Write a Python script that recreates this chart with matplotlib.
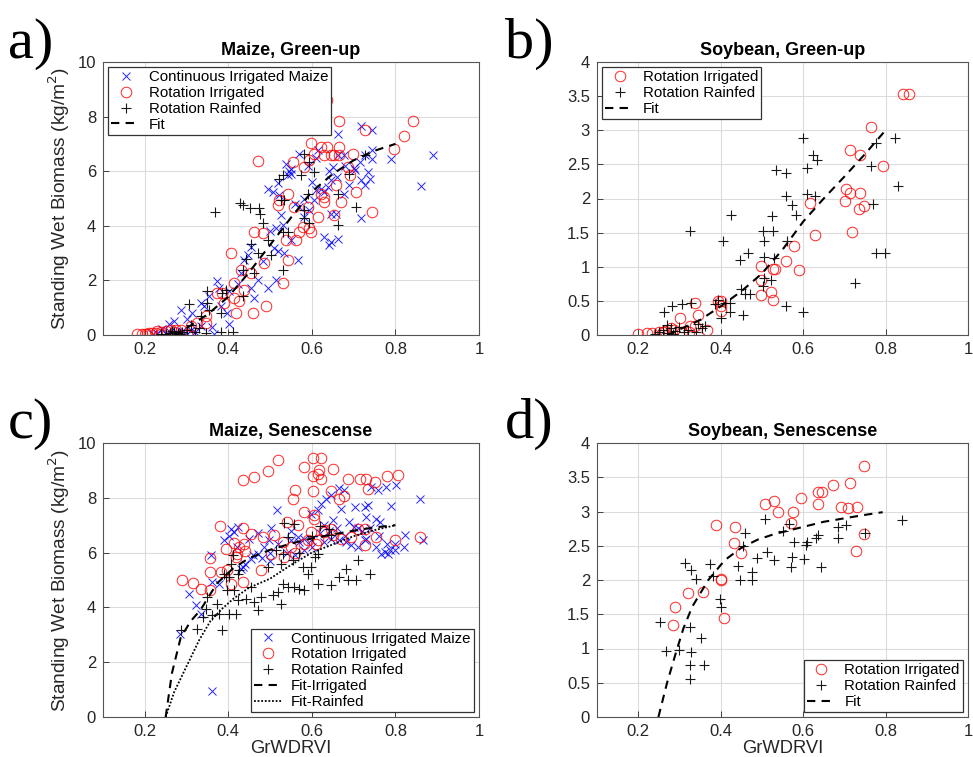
import matplotlib
matplotlib.use("Agg")
import matplotlib.pyplot as plt

plt.rcParams['font.family'] = ['Liberation Sans', 'DejaVu Sans']

# ---------------- Panel a: Maize, Green-up ----------------
a_cim_x = [0.89, 0.862, 0.79, 0.718, 0.744, 0.662, 0.744, 0.745, 0.726, 0.714, 0.734, 0.738, 0.718, 0.726, 0.718,
           0.702, 0.678, 0.678, 0.662, 0.65, 0.646, 0.638, 0.63, 0.646, 0.658, 0.63, 0.642, 0.662, 0.646, 0.614,
           0.622, 0.606, 0.594, 0.582, 0.57, 0.57, 0.55, 0.542, 0.518, 0.506, 0.494, 0.522, 0.526, 0.514, 0.53,
           0.55, 0.566, 0.534, 0.518, 0.514, 0.494, 0.47, 0.482, 0.454, 0.446, 0.438, 0.43, 0.462, 0.454, 0.422,
           0.402, 0.374, 0.378, 0.354, 0.342, 0.334, 0.314, 0.302, 0.286, 0.27, 0.258, 0.242, 0.382, 0.398, 0.402,
           0.366, 0.334, 0.31, 0.29, 0.275, 0.55, 0.538, 0.546, 0.59, 0.61, 0.6, 0.64, 0.66, 0.68, 0.7,
           0.69, 0.61, 0.58, 0.56, 0.5, 0.51, 0.36, 0.32, 0.3, 0.26, 0.25, 0.23, 0.22]
a_cim_y = [6.58, 5.46, 6.46, 7.67, 7.52, 7.37, 6.76, 6.46, 6.58, 6.33, 5.97, 5.73, 5.67, 5.49, 4.27,
           6.03, 6.58, 5.18, 6.58, 6.15, 5.67, 5.42, 5.24, 4.45, 4.45, 3.6, 3.28, 3.52, 3.42, 6.76,
           5.36, 4.94, 4.58, 4.33, 4.7, 6.64, 6.09, 5.85, 5.55, 5.24, 5.36, 5.12, 4.39, 3.91, 4.03,
           3.48, 2.73, 3.0, 3.06, 2.03, 1.72, 2.03, 2.7, 3.24, 2.94, 2.76, 2.27, 1.36, 1.72, 1.85,
           1.6, 1.97, 1.72, 1.42, 1.06, 1.18, 0.81, 0.57, 0.93, 0.51, 0.39, 0.21, 1.06, 0.81, 0.39,
           0.02, 0.33, 0.2, 0.15, 0.12, 5.9, 6.27, 6.0, 6.2, 6.5, 5.6, 6.0, 5.8, 6.2, 6.1,
           5.5, 5.3, 5.0, 4.8, 3.8, 3.2, 0.3, 0.1, 0.05, 0.1, 0.05, 0.08, 0.03]
a_ri_x = [0.635, 0.842, 0.666, 0.727, 0.82, 0.796, 0.598, 0.47, 0.622, 0.635, 0.666, 0.606, 0.646, 0.654, 0.666,
          0.63, 0.698, 0.594, 0.686, 0.692, 0.554, 0.582, 0.658, 0.706, 0.622, 0.63, 0.63, 0.67, 0.614, 0.654,
          0.745, 0.59, 0.594, 0.598, 0.578, 0.57, 0.542, 0.522, 0.518, 0.558, 0.562, 0.538, 0.542, 0.53, 0.49,
          0.458, 0.418, 0.406, 0.462, 0.482, 0.43, 0.438, 0.414, 0.414, 0.426, 0.386, 0.374, 0.39, 0.346, 0.346,
          0.326, 0.31, 0.286, 0.182, 0.194, 0.206, 0.218, 0.226, 0.238, 0.25, 0.262, 0.274, 0.486, 0.454, 0.3,
          0.27, 0.24, 0.2, 0.21, 0.23]
a_ri_y = [8.6, 7.83, 7.83, 7.52, 7.28, 6.82, 7.03, 6.37, 6.88, 6.88, 6.88, 6.64, 6.58, 6.58, 6.58,
          6.58, 6.64, 6.4, 6.15, 5.85, 6.33, 6.15, 5.49, 5.24, 5.18, 5.06, 4.88, 4.88, 4.33, 4.39,
          4.51, 4.7, 3.91, 3.79, 3.97, 3.79, 5.18, 4.94, 4.76, 4.7, 3.48, 3.48, 2.75, 1.91, 1.06,
          0.81, 0.81, 3.0, 3.79, 3.73, 2.39, 1.66, 1.9, 1.36, 1.24, 1.54, 1.54, 1.18, 0.69, 0.45,
          0.45, 0.33, 0.2, 0.02, 0.02, 0.02, 0.06, 0.06, 0.1, 0.15, 0.17, 0.2, 2.63, 2.27, 0.05,
          0.1, 0.02, 0.05, 0.08, 0.15]
a_rr_x = [0.582, 0.606, 0.574, 0.522, 0.53, 0.367, 0.428, 0.434, 0.452, 0.474, 0.476, 0.482, 0.454, 0.442, 0.47,
          0.494, 0.502, 0.53, 0.526, 0.534, 0.53, 0.542, 0.582, 0.582, 0.594, 0.59, 0.662, 0.662, 0.706, 0.69,
          0.726, 0.594, 0.434, 0.434, 0.394, 0.386, 0.35, 0.35, 0.354, 0.382, 0.306, 0.334, 0.31, 0.41, 0.382,
          0.346, 0.462, 0.25, 0.26, 0.27, 0.28, 0.29, 0.3, 0.32, 0.33, 0.24, 0.265, 0.285]
a_rr_y = [6.64, 5.97, 5.85, 5.73, 5.85, 4.51, 4.82, 4.76, 4.64, 4.64, 4.45, 4.09, 3.34, 2.78, 3.0,
          3.48, 2.94, 2.39, 4.94, 4.94, 3.79, 3.79, 4.58, 4.27, 4.09, 5.18, 5.18, 4.03, 4.7, 5.91,
          6.58, 6.33, 2.39, 1.42, 1.66, 1.54, 1.6, 1.18, 0.93, 0.81, 1.12, 0.69, 0.35, 0.12, 0.11,
          0.08, 2.27, 0.05, 0.08, 0.1, 0.06, 0.12, 0.2, 0.1, 0.25, 0.03, 0.15, 0.05]
a_fit_x = [0.27, 0.3, 0.35, 0.4, 0.45, 0.5, 0.55, 0.6, 0.65, 0.7, 0.75, 0.8]
a_fit_y = [0.0, 0.25, 0.75, 1.4, 2.3, 3.3, 4.3, 5.25, 5.9, 6.4, 6.75, 7.0]

# ---------------- Panel b: Soybean, Green-up ----------------
b_ri_x = [0.842, 0.857, 0.764, 0.713, 0.737, 0.793, 0.705, 0.714, 0.737, 0.702, 0.735, 0.748, 0.616, 0.718, 0.629,
          0.578, 0.559, 0.59, 0.498, 0.527, 0.532, 0.498, 0.498, 0.523, 0.528, 0.4, 0.393, 0.4, 0.4, 0.337,
          0.345, 0.301, 0.368, 0.326, 0.2, 0.222, 0.234, 0.25, 0.266, 0.286, 0.305, 0.322, 0.338, 0.28, 0.26]
b_ri_y = [3.53, 3.53, 3.05, 2.71, 2.64, 2.48, 2.14, 2.08, 2.08, 1.96, 1.85, 1.89, 1.93, 1.51, 1.46,
          1.31, 1.09, 0.95, 1.01, 0.96, 0.96, 0.81, 0.58, 0.63, 0.52, 0.5, 0.5, 0.42, 0.35, 0.47,
          0.3, 0.25, 0.08, 0.13, 0.01, 0.03, 0.03, 0.04, 0.06, 0.08, 0.04, 0.04, 0.13, 0.1, 0.05]
b_rr_x = [0.6, 0.625, 0.634, 0.61, 0.534, 0.558, 0.558, 0.61, 0.63, 0.574, 0.582, 0.525, 0.426, 0.502, 0.526,
          0.326, 0.405, 0.505, 0.562, 0.466, 0.447, 0.506, 0.53, 0.506, 0.522, 0.503, 0.45, 0.458, 0.47, 0.422,
          0.423, 0.453, 0.4, 0.559, 0.6, 0.824, 0.776, 0.764, 0.829, 0.77, 0.776, 0.798, 0.725, 0.262, 0.282,
          0.306, 0.329, 0.386, 0.394, 0.41, 0.362, 0.346, 0.24, 0.25, 0.26, 0.27, 0.28, 0.29, 0.3, 0.31,
          0.32, 0.34, 0.355, 0.27, 0.285]
b_rr_y = [2.89, 2.64, 2.56, 2.44, 2.42, 2.37, 2.04, 2.07, 2.04, 1.9, 1.76, 1.75, 1.76, 1.53, 1.53,
          1.53, 1.37, 1.37, 1.37, 1.2, 1.1, 1.15, 1.13, 0.84, 0.81, 0.72, 0.67, 0.6, 0.6, 0.47,
          0.34, 0.3, 0.25, 0.42, 0.34, 2.88, 2.82, 2.47, 2.19, 1.92, 1.2, 1.2, 0.76, 0.34, 0.42,
          0.45, 0.47, 0.45, 0.52, 0.47, 0.13, 0.16, 0.02, 0.05, 0.08, 0.03, 0.1, 0.06, 0.12, 0.04,
          0.08, 0.05, 0.1, 0.15, 0.02]
b_fit_x = [0.27, 0.3, 0.35, 0.4, 0.45, 0.5, 0.55, 0.6, 0.65, 0.7, 0.75, 0.8]
b_fit_y = [0.0, 0.08, 0.22, 0.42, 0.64, 0.9, 1.25, 1.66, 2.0, 2.32, 2.65, 3.0]

# ---------------- Panel c: Maize, Senescense ----------------
c_cim_x = [0.858, 0.802, 0.778, 0.742, 0.758, 0.79, 0.666, 0.678, 0.646, 0.634, 0.622, 0.614, 0.598, 0.726, 0.734,
           0.702, 0.516, 0.73, 0.754, 0.762, 0.822, 0.866, 0.766, 0.774, 0.782, 0.786, 0.754, 0.63, 0.406, 0.422,
           0.414, 0.402, 0.39, 0.358, 0.306, 0.284, 0.322, 0.334, 0.362, 0.362, 0.378, 0.434, 0.454, 0.47, 0.486,
           0.498, 0.502, 0.55, 0.566, 0.582, 0.598, 0.63, 0.646, 0.666, 0.682, 0.694, 0.71, 0.726, 0.62, 0.64,
           0.66, 0.68, 0.7, 0.72, 0.74, 0.76, 0.78, 0.8, 0.69, 0.71, 0.73, 0.52, 0.54, 0.56, 0.58,
           0.6, 0.44, 0.46, 0.48, 0.5, 0.42, 0.43, 0.45, 0.47, 0.82, 0.8, 0.55, 0.57, 0.5, 0.65, 0.67]
c_cim_y = [7.97, 8.45, 8.39, 8.39, 8.27, 7.69, 8.37, 8.27, 8.09, 7.97, 7.78, 7.54, 7.4, 7.66, 7.72,
           7.66, 7.54, 7.3, 7.24, 7.1, 6.63, 6.45, 5.96, 6.02, 5.96, 6.08, 6.2, 7.0, 6.87, 6.93,
           6.75, 6.6, 6.45, 5.9, 4.5, 3.04, 4.08, 3.77, 0.94, 4.93, 4.87, 5.47, 5.78, 5.96, 6.2,
           6.45, 6.9, 6.45, 6.57, 6.51, 6.45, 6.39, 6.51, 6.45, 6.39, 6.27, 6.2, 6.45, 6.7, 6.8,
           6.9, 6.6, 6.95, 6.8, 6.9, 6.6, 6.3, 6.1, 7.1, 6.9, 6.5, 6.3, 6.0, 5.9, 6.1,
           6.2, 5.6, 5.9, 5.8, 6.0, 6.2, 5.4, 6.5, 6.7, 6.2, 6.3, 6.8, 6.4, 5.7, 7.2, 7.6]
c_ri_x = [0.602, 0.622, 0.518, 0.582, 0.494, 0.65, 0.618, 0.614, 0.622, 0.602, 0.436, 0.462, 0.686, 0.716, 0.73,
          0.75, 0.78, 0.806, 0.734, 0.559, 0.554, 0.602, 0.646, 0.666, 0.678, 0.582, 0.606, 0.604, 0.38, 0.434,
          0.454, 0.482, 0.51, 0.54, 0.566, 0.63, 0.646, 0.71, 0.726, 0.394, 0.414, 0.426, 0.438, 0.418, 0.398,
          0.406, 0.356, 0.356, 0.382, 0.29, 0.316, 0.334, 0.356, 0.434, 0.478, 0.502, 0.534, 0.55, 0.582, 0.59,
          0.598, 0.614, 0.63, 0.65, 0.694, 0.726, 0.754, 0.798, 0.858, 0.42, 0.44, 0.53, 0.56, 0.61, 0.67]
c_ri_y = [9.46, 9.46, 9.37, 9.12, 8.98, 9.04, 9.0, 8.88, 8.7, 8.78, 8.64, 8.76, 8.67, 8.7, 8.7,
          8.58, 8.78, 8.84, 8.33, 8.27, 7.97, 8.25, 8.25, 7.94, 8.05, 7.48, 7.36, 7.24, 6.97, 6.91,
          6.69, 6.57, 6.63, 7.12, 7.02, 6.81, 6.87, 6.87, 6.87, 6.14, 6.35, 6.2, 6.33, 5.84, 5.35,
          4.87, 5.8, 5.29, 5.29, 4.99, 4.89, 4.68, 4.62, 4.93, 5.35, 5.96, 5.84, 6.2, 6.33, 6.45,
          6.75, 6.45, 6.75, 6.63, 6.57, 6.29, 6.57, 6.45, 6.57, 5.95, 6.05, 6.4, 6.0, 6.3, 6.5]
c_rr_x = [0.534, 0.558, 0.542, 0.62, 0.642, 0.646, 0.614, 0.608, 0.598, 0.59, 0.578, 0.514, 0.53, 0.554, 0.526,
          0.494, 0.53, 0.542, 0.558, 0.57, 0.582, 0.614, 0.646, 0.666, 0.682, 0.686, 0.706, 0.71, 0.738, 0.506,
          0.526, 0.518, 0.478, 0.462, 0.47, 0.442, 0.454, 0.414, 0.422, 0.418, 0.402, 0.374, 0.378, 0.386, 0.346,
          0.35, 0.362, 0.34, 0.326, 0.286, 0.39, 0.402, 0.41, 0.406, 0.394, 0.422, 0.426, 0.396, 0.57, 0.6]
c_rr_y = [7.08, 7.06, 6.57, 6.96, 6.87, 6.63, 5.96, 5.84, 5.47, 5.23, 5.47, 6.08, 5.96, 5.72, 5.6,
          5.47, 4.87, 4.74, 4.74, 4.68, 4.62, 4.87, 4.81, 5.11, 5.41, 4.99, 4.99, 5.72, 5.23, 4.44,
          4.14, 4.56, 4.38, 4.2, 3.92, 4.32, 4.74, 4.62, 4.26, 3.77, 3.77, 4.14, 3.77, 3.16, 3.95,
          4.38, 3.71, 3.65, 3.22, 3.16, 5.23, 5.11, 5.9, 5.6, 5.1, 5.23, 5.35, 4.62, 6.0, 6.6]
c_fiti_x = [0.25, 0.265, 0.286, 0.31, 0.333, 0.373, 0.412, 0.45, 0.5, 0.55, 0.6, 0.65, 0.7, 0.75, 0.8]
c_fiti_y = [0.0, 1.6, 2.9, 3.5, 3.9, 4.88, 5.43, 5.8, 6.1, 6.33, 6.52, 6.66, 6.8, 6.92, 7.0]
c_fitr_x = [0.25, 0.27, 0.3, 0.33, 0.357, 0.385, 0.413, 0.45, 0.5, 0.55, 0.6, 0.65, 0.7, 0.75, 0.8]
c_fitr_y = [0.0, 0.9, 1.85, 2.8, 3.5, 3.95, 4.33, 4.72, 5.05, 5.55, 6.0, 6.3, 6.6, 6.82, 7.0]

# ---------------- Panel d: Soybean, Senescense ----------------
d_ri_x = [0.748, 0.713, 0.673, 0.637, 0.645, 0.635, 0.596, 0.508, 0.53, 0.539, 0.576, 0.57, 0.691, 0.708, 0.731,
          0.748, 0.729, 0.388, 0.434, 0.433, 0.449, 0.402, 0.4, 0.357, 0.32, 0.29, 0.284, 0.409]
d_ri_y = [3.67, 3.42, 3.39, 3.28, 3.28, 3.11, 3.19, 3.11, 3.16, 2.99, 3.0, 2.83, 3.06, 3.05, 3.07,
          2.67, 2.42, 2.81, 2.78, 2.54, 2.4, 2.0, 2.01, 1.82, 1.81, 1.61, 1.34, 1.44]
d_rr_x = [0.839, 0.508, 0.751, 0.704, 0.684, 0.685, 0.566, 0.55, 0.637, 0.632, 0.61, 0.606, 0.579, 0.512, 0.53,
          0.488, 0.574, 0.602, 0.57, 0.644, 0.46, 0.454, 0.442, 0.446, 0.476, 0.476, 0.375, 0.381, 0.313, 0.329,
          0.339, 0.398, 0.4, 0.253, 0.267, 0.3, 0.325, 0.327, 0.352, 0.325, 0.359, 0.325]
d_rr_y = [2.87, 2.89, 2.69, 2.8, 2.78, 2.61, 2.82, 2.71, 2.66, 2.62, 2.56, 2.51, 2.56, 2.41, 2.29,
          2.32, 2.34, 2.31, 2.19, 2.19, 2.69, 2.5, 2.21, 2.0, 2.11, 2.0, 2.24, 2.06, 2.25, 2.15,
          2.02, 1.72, 1.61, 1.39, 0.96, 0.98, 1.32, 0.95, 1.16, 0.76, 0.76, 0.56]
d_fit_x = [0.249, 0.27, 0.291, 0.31, 0.331, 0.37, 0.41, 0.45, 0.49, 0.53, 0.57, 0.61, 0.65, 0.69, 0.729, 0.76, 0.793]
d_fit_y = [0.0, 0.5, 0.93, 1.3, 1.61, 2.0, 2.29, 2.47, 2.59, 2.67, 2.73, 2.79, 2.85, 2.89, 2.93, 2.96, 2.99]

x_ticks = [0.2, 0.4, 0.6, 0.8, 1.0]
x_ticklabels = ['0.2', '0.4', '0.6', '0.8', '1']
maize_yticks = [0, 2, 4, 6, 8, 10]
soy_yticks = [0, 0.5, 1, 1.5, 2, 2.5, 3, 3.5, 4]
soy_yticklabels = ['0', '0.5', '1', '1.5', '2', '2.5', '3', '3.5', '4']

W, H = 973, 757
fig = plt.figure(figsize=(W / 100, H / 100), dpi=100)

def mk_ax(l, t, r, b):
    return fig.add_axes([l / W, 1 - b / H, (r - l) / W, (b - t) / H])

axA = mk_ax(103, 62, 479, 335)
axB = mk_ax(597, 62, 968, 335)
axC = mk_ax(103, 443, 479, 717)
axD = mk_ax(597, 443, 968, 717)

edge = '#262626'
for ax in (axA, axB, axC, axD):
    ax.set_xlim(0.1, 1.0)
    ax.set_xticks(x_ticks)
    ax.set_xticklabels(x_ticklabels)
    ax.grid(True, color='#dcdcdc', linewidth=0.8)
    ax.set_axisbelow(True)
    ax.tick_params(direction='in', length=4, width=0.6, colors=edge, labelsize=12,
                   top=False, right=False, pad=5)
    for s in ax.spines.values():
        s.set_color('#555555')
        s.set_linewidth(0.8)

for ax in (axA, axC):
    ax.set_ylim(0, 10)
    ax.set_yticks(maize_yticks)
    ax.set_ylabel('Standing Wet Biomass (kg/m$^2$)', fontsize=13.8, color=edge, labelpad=4)
for ax in (axB, axD):
    ax.set_ylim(0, 4)
    ax.set_yticks(soy_yticks)
    ax.set_yticklabels(soy_yticklabels)
for ax in (axC, axD):
    ax.set_xlabel('GrWDRVI', fontsize=13.2, color=edge, labelpad=1)

xk = dict(marker='x', linestyle='none', color='#0000ff', markersize=5.5, markeredgewidth=0.7, alpha=0.85)
ok = dict(marker='o', linestyle='none', markerfacecolor='none', markeredgecolor='#ff0000', markersize=7.6,
          markeredgewidth=0.7, alpha=0.85)
pk = dict(marker='+', linestyle='none', color='black', markersize=7.8, markeredgewidth=0.8, alpha=0.9)

# Panel a
axA.plot(a_cim_x, a_cim_y, label='Continuous Irrigated Maize', **xk)
axA.plot(a_ri_x, a_ri_y, label='Rotation Irrigated', **ok)
axA.plot(a_rr_x, a_rr_y, label='Rotation Rainfed', **pk)
axA.plot(a_fit_x, a_fit_y, 'k--', lw=1.5, dashes=(4, 3), label='Fit')
axA.set_title('Maize, Green-up', fontsize=13, fontweight='bold', pad=5)

# Panel b
axB.plot(b_ri_x, b_ri_y, label='Rotation Irrigated', **ok)
axB.plot(b_rr_x, b_rr_y, label='Rotation Rainfed', **pk)
axB.plot(b_fit_x, b_fit_y, 'k--', lw=1.5, dashes=(4, 3), label='Fit')
axB.set_title('Soybean, Green-up', fontsize=13, fontweight='bold', pad=5)

# Panel c
axC.plot(c_cim_x, c_cim_y, label='Continuous Irrigated Maize', **xk)
axC.plot(c_ri_x, c_ri_y, label='Rotation Irrigated', **ok)
axC.plot(c_rr_x, c_rr_y, label='Rotation Rainfed', **pk)
axC.plot(c_fiti_x, c_fiti_y, 'k--', lw=1.5, dashes=(4, 3), label='Fit-Irrigated')
axC.plot(c_fitr_x, c_fitr_y, 'k:', lw=1.3, dashes=(1, 1), label='Fit-Rainfed')
axC.set_title('Maize, Senescense', fontsize=13, fontweight='bold', pad=5)

# Panel d
axD.plot(d_ri_x, d_ri_y, label='Rotation Irrigated', **ok)
axD.plot(d_rr_x, d_rr_y, label='Rotation Rainfed', **pk)
axD.plot(d_fit_x, d_fit_y, 'k--', lw=1.5, dashes=(4, 3), label='Fit')
axD.set_title('Soybean, Senescense', fontsize=13, fontweight='bold', pad=5)

leg_kw = dict(fontsize=10.8, fancybox=False, framealpha=1, edgecolor='#333333',
              handlelength=1.9, handletextpad=0.6, borderpad=0.2, labelspacing=0.12, borderaxespad=0.35)
for ax, loc in ((axA, 'upper left'), (axB, 'upper left'), (axC, 'lower right'), (axD, 'lower right')):
    lg = ax.legend(loc=loc, **leg_kw)
    lg.get_frame().set_linewidth(0.9)

for txt, x, y in (('a)', 8, 44), ('b)', 505, 44), ('c)', 8, 424), ('d)', 505, 424)):
    fig.text(x / W, 1 - y / H, txt, fontsize=42, family=['Liberation Serif', 'DejaVu Serif'],
             va='center', ha='left')

fig.savefig('out.png', dpi=100)
